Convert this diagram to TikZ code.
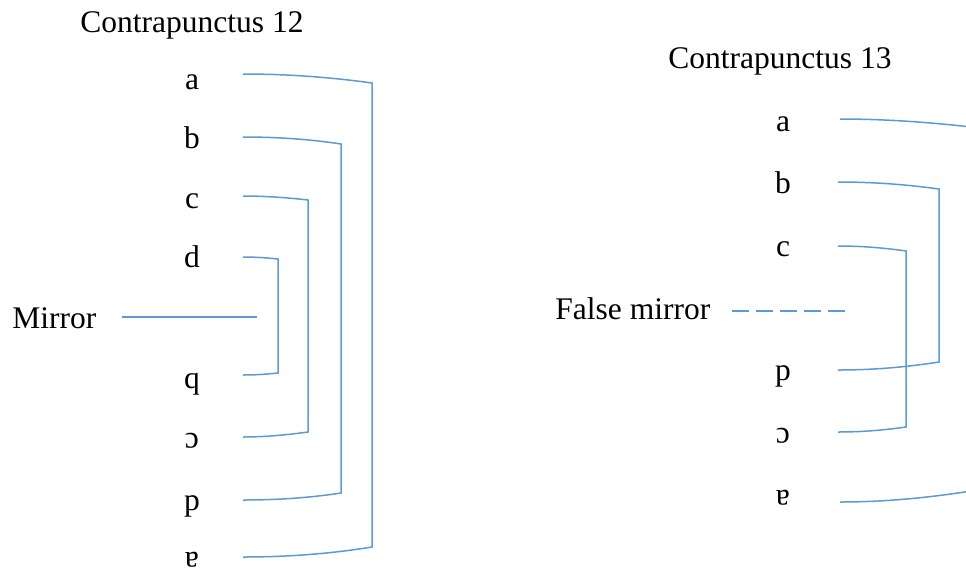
\documentclass[tikz,border=0pt]{standalone}
\usepackage{fontspec}
\setmainfont{Liberation Serif}
\newfontfamily\timesfont{Liberation Serif}
\usepackage{graphicx}
\definecolor{linkblue}{HTML}{5B9BD5}
\tikzset{
  lbl/.style={inner sep=0pt, anchor=base, font=\timesfont\fontsize{15.75}{18}\selectfont},
  lblw/.style={lbl, anchor=base west},
  link/.style={draw=linkblue, line width=0.75pt, line join=miter},
  falselink/.style={link, dash pattern=on 8.5pt off 3.5pt}
}
\newcommand{\flipglyph}[1]{\rotatebox[origin=c]{180}{#1}}
\begin{document}
\begin{tikzpicture}[x=0.5pt,y=-0.5pt]
\useasboundingbox (0,0) rectangle (966,575);
\clip (0,0) rectangle (966,575);

% ---------- Contrapunctus 12 ----------
\node[lbl] (t12) at (192,32) {Contrapunctus 12};
\node[lbl] (la) at (192,89) {a};
\node[lbl] (lb) at (192,148) {b};
\node[lbl] (lc) at (192,208) {c};
\node[lbl] (ld) at (192,267) {d};
\node[lbl] (lq) at (192,388) {q};
\node[lbl] (lrc) at (192,448) {\flipglyph{c}};
\node[lbl] (lp) at (192,510) {p};
\node[lbl] (lra) at (192,567) {\flipglyph{a}};
\node[lblw] (mirror) at (12,328) {Mirror};

\coordinate (ms) at (122,317);
\coordinate (me) at (257,317);
\draw[link] (ms) -- (me);

% a bracket
\coordinate (as) at (243,74);   \coordinate (at) at (372,83);
\coordinate (ab) at (372,547);  \coordinate (ae) at (243,557);
\draw[link] (as) .. controls (286,74) and (329,77) .. (at) -- (ab)
  .. controls (329,554) and (286,557) .. (ae);
% b bracket
\coordinate (bs) at (243,137);  \coordinate (bt) at (341,144);
\coordinate (bb) at (341,493);  \coordinate (be) at (243,500);
\draw[link] (bs) .. controls (276,137) and (308,139) .. (bt) -- (bb)
  .. controls (308,498) and (276,500) .. (be);
% c bracket
\coordinate (cs) at (243,196);  \coordinate (ct) at (308,200);
\coordinate (cb) at (308,432);  \coordinate (ce) at (243,437);
\draw[link] (cs) .. controls (265,196) and (286,197.5) .. (ct) -- (cb)
  .. controls (286,435) and (265,437) .. (ce);
% d bracket
\coordinate (ds) at (243,257);  \coordinate (dt) at (278,259);
\coordinate (db) at (278,373);  \coordinate (de) at (243,375);
\draw[link] (ds) .. controls (255,257) and (266,257.7) .. (dt) -- (db)
  .. controls (266,374.3) and (255,375) .. (de);

% ---------- Contrapunctus 13 ----------
\node[lbl] (t13) at (780,68) {Contrapunctus 13};
\node[lbl] (ra) at (783,131) {a};
\node[lbl] (rb) at (783,193) {b};
\node[lbl] (rc) at (783,256) {c};
\node[lbl] (rp) at (783,380) {p};
\node[lbl] (rrc) at (783,443) {\flipglyph{c}};
\node[lbl] (rra) at (783,505) {\flipglyph{a}};
\node[lblw] (fmirror) at (555,319) {False mirror};

\coordinate (fs) at (732,311);
\coordinate (fe) at (846,311);
\draw[falselink] (fs) -- (fe);

% a bracket (runs off the right edge)
\coordinate (ras) at (840,119);  \coordinate (rat) at (971,127);
\coordinate (rab) at (971,491);  \coordinate (rae) at (840,502);
\draw[link] (ras) .. controls (883,119) and (927,122) .. (rat) -- (rab)
  .. controls (927,498) and (883,502) .. (rae);
% b bracket
\coordinate (rbs) at (838,182);  \coordinate (rbt) at (939,189);
\coordinate (rbb) at (939,362);  \coordinate (rbe) at (838,370);
\draw[link] (rbs) .. controls (872,182) and (905,184.3) .. (rbt) -- (rbb)
  .. controls (905,367.3) and (872,370) .. (rbe);
% c bracket
\coordinate (rcs) at (838,246);  \coordinate (rct) at (906,251);
\coordinate (rcb) at (906,427);  \coordinate (rce) at (838,432);
\draw[link] (rcs) .. controls (861,246) and (883,247.7) .. (rct) -- (rcb)
  .. controls (883,430.3) and (861,432) .. (rce);
\end{tikzpicture}
\end{document}
